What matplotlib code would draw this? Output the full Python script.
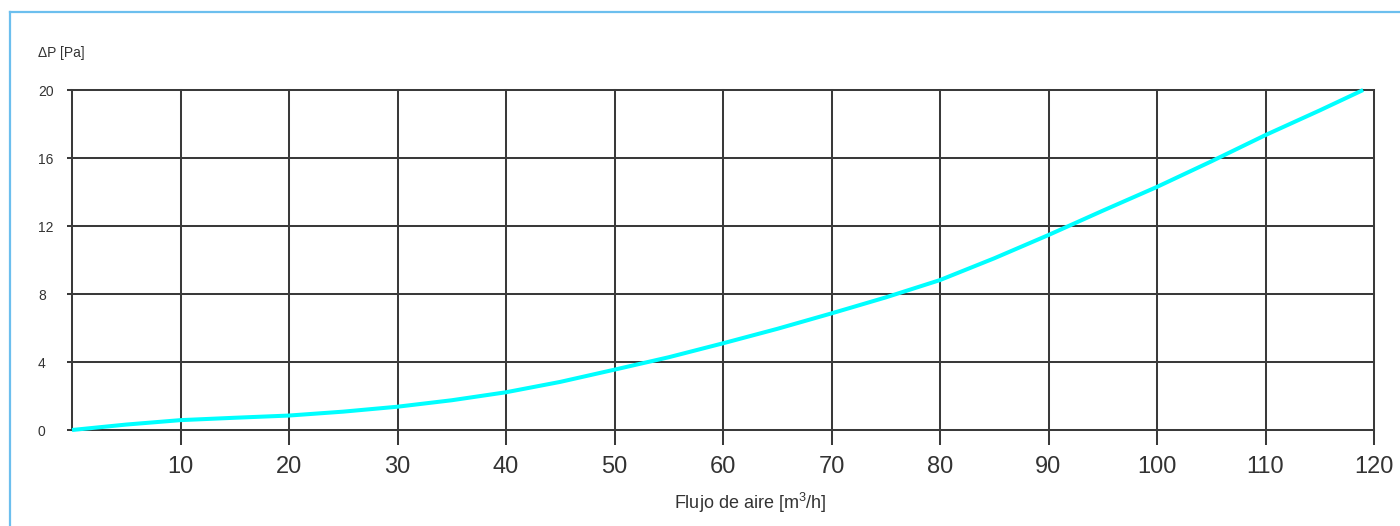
import matplotlib
matplotlib.use("Agg")
import matplotlib.pyplot as plt
from matplotlib.lines import Line2D

plt.rcParams['font.family'] = ['Liberation Sans', 'DejaVu Sans']
plt.rcParams['mathtext.fontset'] = 'custom'
plt.rcParams['mathtext.rm'] = 'Liberation Sans'
plt.rcParams['mathtext.it'] = 'Liberation Sans:italic'

# Data
flow = [0, 5, 10, 15, 20, 25, 30, 35, 40, 45, 50, 55, 60, 65, 70, 75, 80, 85, 90, 95, 100, 105, 110, 115, 119]
dp = [0, 0.32, 0.58, 0.72, 0.85, 1.08, 1.37, 1.75, 2.22, 2.83, 3.55, 4.28, 5.1, 5.95, 6.86, 7.8, 8.82, 10.1,
      11.47, 12.9, 14.3, 15.8, 17.35, 18.8, 20]
x_ticks = [10, 20, 30, 40, 50, 60, 70, 80, 90, 100, 110, 120]
y_ticks = [0, 4, 8, 12, 16, 20]

W, H = 1400, 526
fig = plt.figure(figsize=(W / 100, H / 100), dpi=100)
ax = fig.add_axes([72 / W, 1 - 430 / H, (1374 - 72) / W, (430 - 90) / H])

grid_c = '#3a3a3a'
txt_c = '#333333'

ax.plot(flow, dp, color='#00ffff', lw=2.9, solid_capstyle='butt', zorder=5, clip_on=False)

ax.set_xlim(0, 120)
ax.set_ylim(0, 20)
for s in ax.spines.values():
    s.set_visible(False)

# grid lines including frame edges
for xv in [0] + x_ticks:
    ax.axvline(xv, color=grid_c, lw=1.45, zorder=2, clip_on=False)
for yv in y_ticks:
    ax.axhline(yv, color=grid_c, lw=1.45, zorder=2, clip_on=False)

ax.set_xticks(x_ticks)
ax.set_xticklabels([str(v) for v in x_ticks], fontsize=17, color=txt_c)
ax.tick_params(axis='x', direction='out', length=11, width=1.45, color=grid_c, pad=7.5)

ax.set_yticks(y_ticks)
ax.set_yticklabels([str(v) for v in y_ticks], fontsize=10, color=txt_c)
ax.tick_params(axis='y', direction='out', length=3.6, width=1.45, color=grid_c, pad=20.9)
for lab in ax.get_yticklabels():
    lab.set_horizontalalignment('left')

fig.text(38.5 / W, 1 - 53 / H, 'ΔP [Pa]', fontsize=10, color=txt_c, ha='left', va='center')
fig.text(750 / W, 1 - 503 / H, 'Flujo de aire [m$^3$/h]', fontsize=13, color=txt_c, ha='center', va='center')

# light blue frame (top and left edges)
fig.add_artist(Line2D([10 / W, 1.0], [1 - 12 / H, 1 - 12 / H], transform=fig.transFigure, color='#6cbfee', lw=1.6))
fig.add_artist(Line2D([10 / W, 10 / W], [1 - 12 / H, 0.0], transform=fig.transFigure, color='#6cbfee', lw=1.6))

fig.savefig('out.png', dpi=100, facecolor='white')
